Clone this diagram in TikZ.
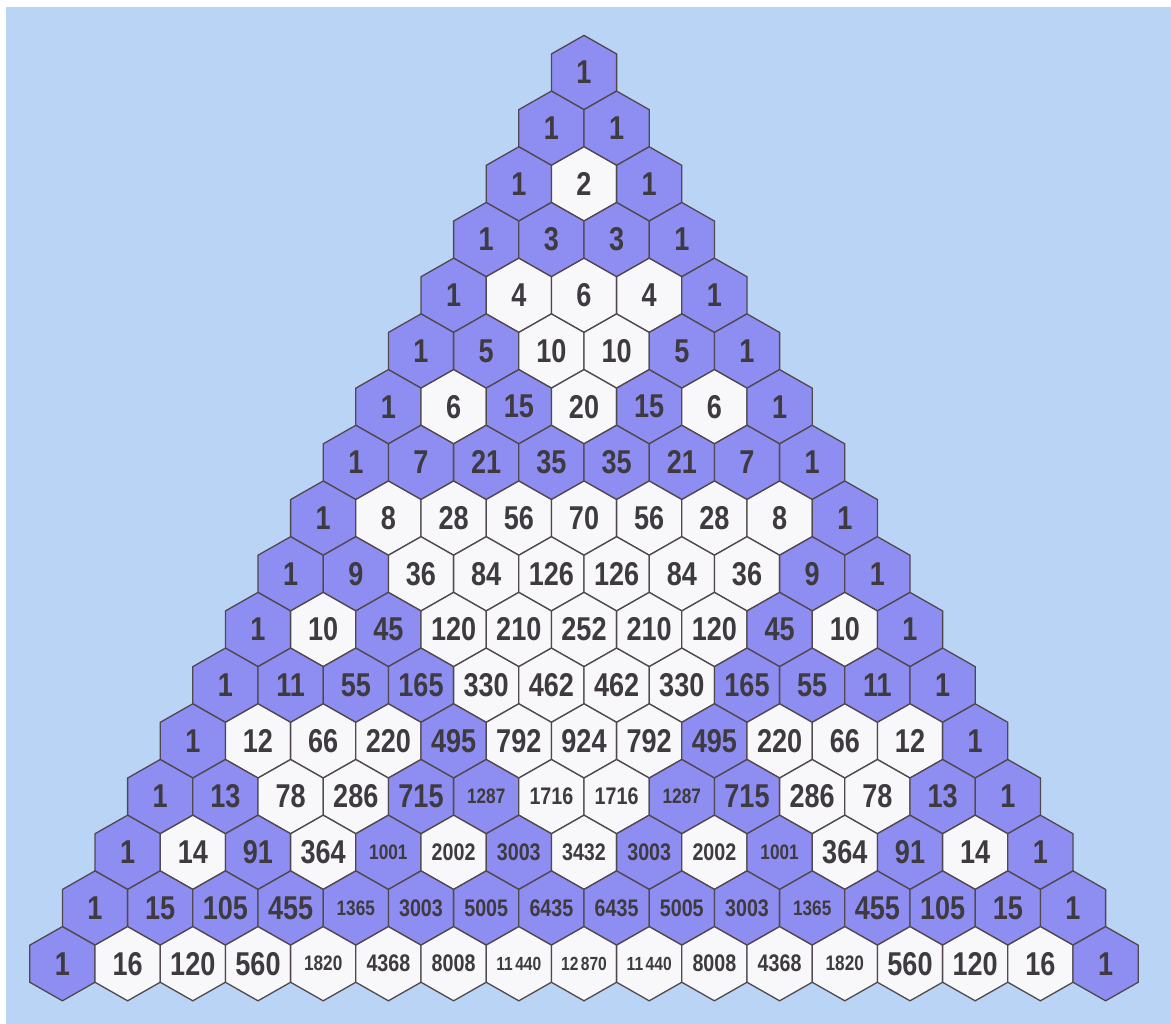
\documentclass[tikz,border=0pt]{standalone}
\usepackage{fontspec}
\newfontfamily\numfont{Liberation Sans}[FakeStretch=0.82]
\definecolor{bgblue}{RGB}{186,212,245}
\definecolor{hexpurple}{RGB}{142,142,242}
\definecolor{hexwhite}{RGB}{248,248,250}
\definecolor{hexedge}{RGB}{80,72,76}
\definecolor{numcol}{RGB}{62,58,64}
\newcommand\lfont{\numfont\bfseries\fontsize{33}{33}\selectfont}
\newcommand\mfont{\numfont\bfseries\fontsize{24}{24}\selectfont}
\newcommand\sfont{\numfont\bfseries\fontsize{21}{21}\selectfont}
\newcommand\tfont{\numfont\bfseries\fontsize{19}{19}\selectfont}
\tikzset{
  hexline/.style={draw=hexedge, line width=1.3pt, line join=miter},
  numtxt/.style={inner sep=0pt, text=numcol, anchor=center}
}
\begin{document}
\begin{tikzpicture}[x=1pt,y=-1pt]
\useasboundingbox (0,0) rectangle (1171,1024);
\fill[white] (0,0) rectangle (1171,1024);
\fill[bgblue] (6,7) rectangle (1171,1024);
\def\W{32.6}\def\R{37.1}\def\hR{18.55}
\foreach \r/\vals in {
 0/{1},
 1/{1,1},
 2/{1,2,1},
 3/{1,3,3,1},
 4/{1,4,6,4,1},
 5/{1,5,10,10,5,1},
 6/{1,6,15,20,15,6,1},
 7/{1,7,21,35,35,21,7,1},
 8/{1,8,28,56,70,56,28,8,1},
 9/{1,9,36,84,126,126,84,36,9,1},
 10/{1,10,45,120,210,252,210,120,45,10,1},
 11/{1,11,55,165,330,462,462,330,165,55,11,1},
 12/{1,12,66,220,495,792,924,792,495,220,66,12,1},
 13/{1,13,78,286,715,1287,1716,1716,1287,715,286,78,13,1},
 14/{1,14,91,364,1001,2002,3003,3432,3003,2002,1001,364,91,14,1},
 15/{1,15,105,455,1365,3003,5005,6435,6435,5005,3003,1365,455,105,15,1},
 16/{1,16,120,560,1820,4368,8008,11440,12870,11440,8008,4368,1820,560,120,16,1}}{
  \foreach \v [count=\k from 0] in \vals {
    \pgfmathsetmacro\cx{584+(\k-\r/2)*65.2}
    \pgfmathsetmacro\cy{72.5+\r*55.7}
    \pgfmathtruncatemacro\odd{mod(\v,2)}
    \ifnum\odd=1 \def\fc{hexpurple}\else\def\fc{hexwhite}\fi
    \draw[hexline, fill=\fc] (\cx,\cy) ++(0,-\R) -- ++(\W,\hR) -- ++(0,2*\hR)
      -- ++(-\W,\hR) -- ++(-\W,-\hR) -- ++(0,-2*\hR) -- cycle;
    \def\fs{\mfont}\def\lbl{\v}
    \ifnum\v<1000 \def\fs{\lfont}\fi
    \ifnum\v=1001 \def\fs{\sfont}\fi
    \ifnum\v=1287 \def\fs{\sfont}\fi
    \ifnum\v=1365 \def\fs{\sfont}\fi
    \ifnum\v=1820 \def\fs{\sfont}\fi
    \ifnum\v=11440 \def\fs{\tfont}\def\lbl{11\kern2.5pt440}\fi
    \ifnum\v=12870 \def\fs{\tfont}\def\lbl{12\kern2.5pt870}\fi
    \node[numtxt, font=\fs] (n\r-\k) at (\cx,\cy) {\lbl};
  }
}
\end{tikzpicture}
\end{document}
